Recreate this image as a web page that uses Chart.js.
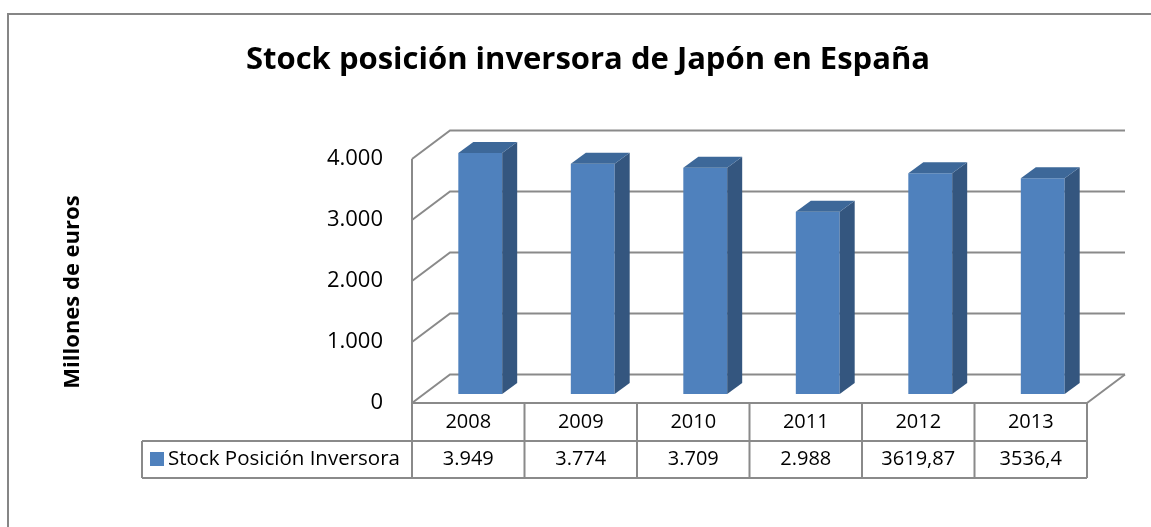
<!DOCTYPE html>
<html>
<head>
<meta charset="utf-8">
<script src="https://cdn.jsdelivr.net/npm/chart.js@4.4.1/dist/chart.umd.min.js"></script>
<style>
  html, body { margin: 0; padding: 0; background: #fff; }
  #wrap { width: 1151px; height: 527px; }
</style>
</head>
<body>
<div id="wrap"><canvas id="chart" width="1151" height="527"></canvas></div>
<script>
// Data
const years = ['2008', '2009', '2010', '2011', '2012', '2013'];
const stockValues = [3949, 3774, 3709, 2988, 3619.87, 3536.4];
const tableLabels = ['3.949', '3.774', '3.709', '2.988', '3619,87', '3536,4'];
const yTickLabels = ['0', '1.000', '2.000', '3.000', '4.000'];
const seriesName = 'Stock Posición Inversora';

const FONT = "'Open Sans', 'Noto Sans', sans-serif";
const GRID = '#8a8a8a';
const FRONT = '#4F81BD';
const SIDE = '#34567F';
const TOP = '#3D6899';

// 3D offsets: back wall, bar plane, bar depth
const WALL = { dx: 38, dy: 28.5 };
const BARP = { dx: 12, dy: 9 };
const DEPTH = { dx: 15, dy: 11 };

const box3d = {
  id: 'box3d',
  beforeDatasetsDraw(chart) {
    const { ctx, chartArea: a, scales: { y } } = chart;
    ctx.save();
    ctx.strokeStyle = GRID;
    ctx.lineWidth = 2;
    y.ticks.forEach(t => {
      const py = y.getPixelForValue(t.value);
      ctx.beginPath();
      ctx.moveTo(a.left, py);
      ctx.lineTo(a.left + WALL.dx, py - WALL.dy);
      ctx.lineTo(a.right + WALL.dx, py - WALL.dy);
      ctx.stroke();
    });
    // left front edge and floor
    ctx.beginPath();
    ctx.moveTo(a.left, a.top);
    ctx.lineTo(a.left, a.bottom);
    ctx.moveTo(a.right + WALL.dx, a.bottom - WALL.dy);
    ctx.lineTo(a.right, a.bottom);
    ctx.stroke();
    ctx.restore();
    // bars sit in the middle of the depth
    ctx.save();
    ctx.translate(BARP.dx, -BARP.dy);
  },
  afterDatasetsDraw(chart) {
    const { ctx } = chart;
    ctx.restore();
    const meta = chart.getDatasetMeta(0);
    meta.data.forEach(bar => {
      const { x, y, base, width } = bar.getProps(['x', 'y', 'base', 'width'], true);
      const l = x - width / 2 + BARP.dx;
      const r = x + width / 2 + BARP.dx;
      const t = y - BARP.dy;
      const b = base - BARP.dy;
      ctx.fillStyle = SIDE;
      ctx.beginPath();
      ctx.moveTo(r, t);
      ctx.lineTo(r + DEPTH.dx, t - DEPTH.dy);
      ctx.lineTo(r + DEPTH.dx, b - DEPTH.dy);
      ctx.lineTo(r, b);
      ctx.closePath();
      ctx.fill();
      ctx.fillStyle = TOP;
      ctx.beginPath();
      ctx.moveTo(l, t);
      ctx.lineTo(l + DEPTH.dx, t - DEPTH.dy);
      ctx.lineTo(r + DEPTH.dx, t - DEPTH.dy);
      ctx.lineTo(r, t);
      ctx.closePath();
      ctx.fill();
    });
  },
  afterDraw(chart) {
    const { ctx, chartArea: a, scales: { x } } = chart;
    const slot = x.getPixelForValue(1) - x.getPixelForValue(0);
    const row1 = a.bottom, row2 = a.bottom + 38, row3 = a.bottom + 75;
    const legL = 142;
    ctx.save();
    ctx.strokeStyle = GRID;
    ctx.lineWidth = 2;
    ctx.beginPath();
    ctx.moveTo(a.left, row1); ctx.lineTo(a.right, row1);
    ctx.moveTo(legL, row2); ctx.lineTo(a.right, row2);
    ctx.moveTo(legL, row3); ctx.lineTo(a.right, row3);
    ctx.moveTo(legL, row2); ctx.lineTo(legL, row3);
    for (let i = 0; i <= years.length; i++) {
      const px = x.getPixelForValue(0) - slot / 2 + i * slot;
      ctx.moveTo(px, row1); ctx.lineTo(px, row3);
    }
    ctx.stroke();

    ctx.fillStyle = '#000';
    ctx.font = '20px ' + FONT;
    ctx.textAlign = 'center';
    ctx.textBaseline = 'middle';
    years.forEach((yr, i) => {
      const px = x.getPixelForValue(i);
      ctx.fillText(yr, px, (row1 + row2) / 2);
      ctx.fillText(tableLabels[i], px, (row2 + row3) / 2);
    });
    ctx.fillStyle = FRONT;
    ctx.fillRect(150, 452, 14, 14);
    ctx.fillStyle = '#000';
    ctx.textAlign = 'left';
    ctx.font = '20.5px ' + FONT;
    ctx.fillText(seriesName, 168, (row2 + row3) / 2);

    // y axis title
    ctx.font = 'bold 22px ' + FONT;
    ctx.textAlign = 'center';
    ctx.translate(73, 292);
    ctx.rotate(-Math.PI / 2);
    ctx.fillText('Millones de euros', 0, 0);
    ctx.restore();

    // outer frame
    ctx.save();
    ctx.strokeStyle = '#868686';
    ctx.lineWidth = 2;
    ctx.beginPath();
    ctx.moveTo(8, 527);
    ctx.lineTo(8, 14);
    ctx.lineTo(1151, 14);
    ctx.stroke();
    ctx.restore();
  }
};

new Chart(document.getElementById('chart').getContext('2d'), {
  type: 'bar',
  data: {
    labels: years,
    datasets: [{
      label: seriesName,
      data: stockValues,
      backgroundColor: FRONT,
      borderWidth: 0,
      barPercentage: 0.39,
      categoryPercentage: 1
    }]
  },
  options: {
    responsive: false,
    animation: false,
    devicePixelRatio: 1,
    layout: { padding: { left: 89, right: 64, top: 0, bottom: 124 } },
    plugins: {
      legend: { display: false },
      tooltip: { enabled: false },
      title: {
        display: true,
        text: 'Stock posición inversora de Japón en España',
        color: '#000',
        font: { family: FONT, size: 31, weight: 'bold', lineHeight: 1.2 },
        padding: { top: 42, bottom: 159 - 42 - 31 * 1.2 }
      }
    },
    scales: {
      x: { display: false, offset: true },
      y: {
        min: 0,
        max: 4000,
        afterFit(scale) { scale.width = 412 - 89; },
        grid: { display: false, drawTicks: false },
        border: { display: false },
        ticks: {
          stepSize: 1000,
          padding: 29,
          color: '#000',
          font: { family: FONT, size: 22 },
          callback: (v, i) => yTickLabels[i]
        }
      }
    }
  },
  plugins: [box3d]
});
</script>
</body>
</html>
